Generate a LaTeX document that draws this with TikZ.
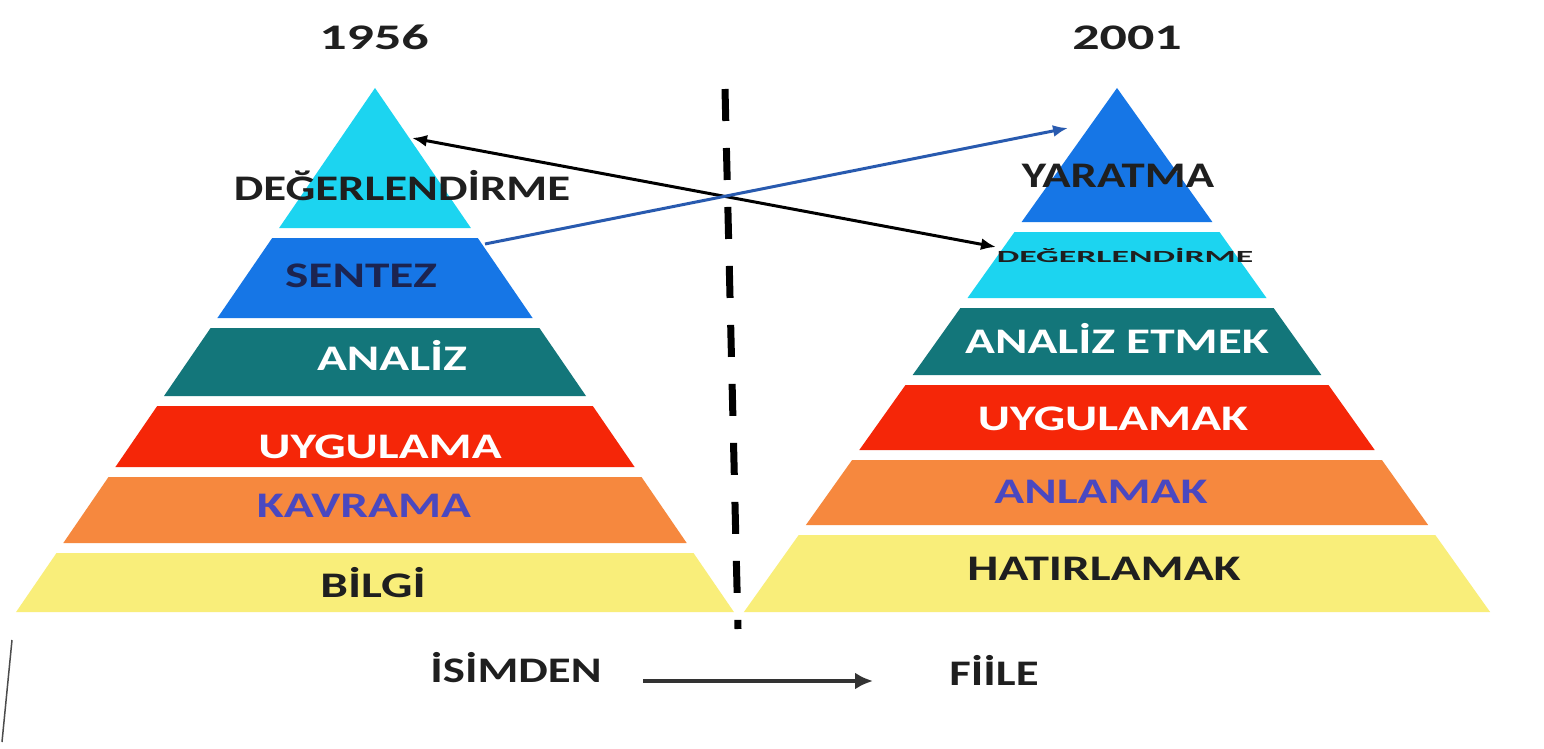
\documentclass[tikz,border=0pt]{standalone}
\usepackage{fontspec}
\setmainfont{Carlito}
\usepackage{graphicx}
\usepackage{xcolor}
\usepackage{tikz}
\usetikzlibrary{arrows.meta}

\newcommand{\wide}[2][1.37]{\scalebox{#1}[1]{#2}}

\definecolor{tiercyan}{RGB}{28,212,240}
\definecolor{tierblue}{RGB}{22,118,230}
\definecolor{tierteal}{RGB}{19,118,122}
\definecolor{tierred}{RGB}{245,38,8}
\definecolor{tierorange}{RGB}{246,136,62}
\definecolor{tieryellow}{RGB}{249,238,122}
\definecolor{navytext}{RGB}{28,36,80}
\definecolor{violettext}{RGB}{74,72,192}
\definecolor{linkblue}{RGB}{40,90,175}

\begin{document}
\begin{tikzpicture}[x=1pt, y=-1pt, >=Latex,
lbl/.style={font=\fontsize{36}{40}\selectfont\bfseries, inner sep=0pt, anchor=base},
darklbl/.style={lbl, text=black!88}, lightlbl/.style={lbl, text=white}, navylbl/.style={lbl, text=navytext}, violetlbl/.style={lbl, text=violettext},
link/.style={line width=3pt, -{Latex[length=15pt,width=12pt]}}]
\useasboundingbox[fill=white] (0,0) rectangle (1544,749);
% 1956 pyramid
\fill[tiercyan] (375,88) -- (470.9,228) -- (279.1,228) -- cycle;
\fill[tierblue] (272.2,238) -- (477.8,238) -- (532.6,318) -- (217.4,318) -- cycle;
\fill[tierteal] (210.6,328) -- (539.4,328) -- (586.0,396) -- (164.0,396) -- cycle;
\fill[tierred] (157.2,406) -- (592.8,406) -- (634.6,467) -- (115.4,467) -- cycle;
\fill[tierorange] (108.5,477) -- (641.5,477) -- (686.7,543) -- (63.3,543) -- cycle;
\fill[tieryellow] (56.5,553) -- (693.5,553) -- (733.9,612) -- (16.1,612) -- cycle;
% 2001 pyramid
\fill[tierblue] (1117,88) -- (1212.4,222) -- (1021.6,222) -- cycle;
\fill[tiercyan] (1014.5,232) -- (1219.5,232) -- (1266.5,298) -- (967.5,298) -- cycle;
\fill[tierteal] (960.4,308) -- (1273.6,308) -- (1321.3,375) -- (912.7,375) -- cycle;
\fill[tierred] (905.5,385) -- (1328.5,385) -- (1374.7,450) -- (859.3,450) -- cycle;
\fill[tierorange] (852.1,460) -- (1381.9,460) -- (1428.1,525) -- (805.9,525) -- cycle;
\fill[tieryellow] (798.7,535) -- (1435.3,535) -- (1490.1,612) -- (743.9,612) -- cycle;
% divider
\coordinate (divtop) at (725,89); \coordinate (divbot) at (738,629);
\draw[line width=7pt, dash pattern=on 32pt off 27pt] (divtop) -- (divbot);
\draw[black!70, line width=1.5pt] (2,742) -- (12,640);
% labels
\node[darklbl] (old) at (374,50) {\wide[1.5]{1956}};
\node[darklbl] (new) at (1127,50) {\wide[1.5]{2001}};
\node[darklbl] (oldeval) at (402,200) {\wide[1.3]{DEĞERLENDİRME}};
\node[navylbl] (oldsyn) at (361,287) {\wide{SENTEZ}};
\node[lightlbl] (oldana) at (392,370) {\wide{ANALİZ}};
\node[lightlbl] (oldapp) at (380,458) {\wide{UYGULAMA}};
\node[violetlbl] (oldcomp) at (364,517) {\wide{KAVRAMA}};
\node[darklbl] (oldknow) at (373,597) {\wide{BİLGİ}};
\node[darklbl] (newcreate) at (1118,187) {\wide[1.3]{YARATMA}};
\node[darklbl, font=\fontsize{17}{20}\selectfont\bfseries] (neweval) at (1125,262) {\wide[2.1]{DEĞERLENDİRME}};
\node[lightlbl] (newana) at (1117,353) {\wide{ANALİZ ETMEK}};
\node[lightlbl] (newapp) at (1113,430) {\wide{UYGULAMAK}};
\node[violetlbl] (newcomp) at (1101,503) {\wide{ANLAMAK}};
\node[darklbl] (newrem) at (1104,580) {\wide{HATIRLAMAK}};
\node[darklbl] (noun) at (516,682) {\wide[1.3]{İSİMDEN}};
\node[darklbl] (verb) at (994,685) {\wide[1.3]{FİİLE}};
% shifts between levels
\coordinate (evalfrom) at (996,247); \coordinate (evalto) at (412,138);
\coordinate (synfrom) at (485,244); \coordinate (synto) at (1068,128);
\coordinate (nounend) at (643,681); \coordinate (verbend) at (873,681);
\draw[link, {Latex[length=15pt,width=12pt]}-{Latex[length=15pt,width=12pt]}] (evalto) -- (evalfrom);
\draw[link, linkblue] (synfrom) -- (synto);
\draw[link, black!80, line width=4.5pt, -{Latex[length=18pt,width=17pt]}] (nounend) -- (verbend);
\end{tikzpicture}
\end{document}
